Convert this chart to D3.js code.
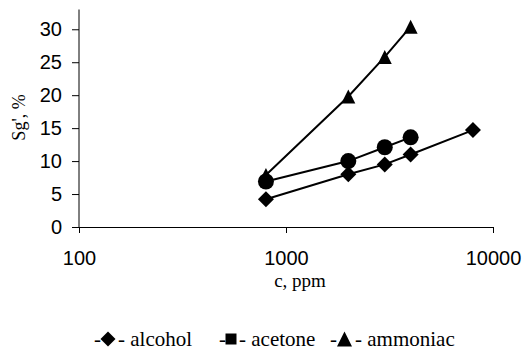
<!DOCTYPE html>
<html>
<head>
<meta charset="utf-8">
<script src="https://cdn.jsdelivr.net/npm/d3@7"></script>
<style>
  html, body { margin: 0; padding: 0; background: #fff; }
  svg { display: block; }
</style>
</head>
<body>
<svg id="chart" width="525" height="351"></svg>
<script>
// Concentration (ppm) and response Sg' (%) for each vapour
const alcoholC = [800, 2000, 3000, 4000, 8000];
const alcoholV = [4.2, 8.0, 9.5, 11.0, 14.7];
const acetoneC = [800, 2000, 3000, 4000];
const acetoneV = [6.9, 10.0, 12.1, 13.6];
const ammoniacC = [800, 2000, 3000, 4000];
const ammoniacV = [7.9, 19.8, 25.8, 30.4];

const seriesNames = ["alcohol", "acetone", "ammoniac"];
const xTicks = [100, 1000, 10000];
const yTicks = [0, 5, 10, 15, 20, 25, 30];

const SANS = "'Liberation Sans', Arial, sans-serif";
const SERIF = "'Liberation Serif', 'Times New Roman', serif";

// Marker shapes: size is the square of the bounding-box width
const diamondSym = { draw(ctx, size) { const w = Math.sqrt(size) / 2;
  ctx.moveTo(0, -w); ctx.lineTo(w, 0); ctx.lineTo(0, w); ctx.lineTo(-w, 0); ctx.closePath(); } };
const squareSym = { draw(ctx, size) { const w = Math.sqrt(size) / 2;
  ctx.rect(-w, -w, 2 * w, 2 * w); } };
const triangleSym = { draw(ctx, size) { const w = Math.sqrt(size) / 2;
  ctx.moveTo(0, -w); ctx.lineTo(w, w); ctx.lineTo(-w, w); ctx.closePath(); } };
const circleSym = { draw(ctx, size) { const r = Math.sqrt(size) / 2;
  ctx.moveTo(r, 0); ctx.arc(0, 0, r, 0, 2 * Math.PI); } };

const svg = d3.select("#chart");
const x = d3.scaleLog().domain([100, 10000]).range([79, 493]);
const y = d3.scaleLinear().domain([0, 33]).range([227, 9.5]);

// Axes
const xAxis = svg.append("g").attr("transform", `translate(0,${y(0)})`)
  .call(d3.axisBottom(x).tickValues(xTicks).tickFormat(d3.format("d")).tickSizeOuter(0).tickSize(6).tickPadding(18));
const yAxis = svg.append("g").attr("transform", `translate(${x(100)},0)`)
  .call(d3.axisLeft(y).tickValues(yTicks).tickSizeOuter(0).tickSize(7).tickPadding(10));
[xAxis, yAxis].forEach(g => {
  g.select(".domain").attr("stroke", "#000").attr("stroke-width", 1);
  g.selectAll(".tick line").attr("stroke", "#000");
  g.selectAll(".tick text").attr("fill", "#000")
    .style("font-family", SANS).style("font-size", "20px");
});
// y axis line runs to the top of the plot
yAxis.select(".domain").attr("d", `M0,${y(0)}V${y(33)}`);

// Axis titles
svg.append("text").attr("x", 300).attr("y", 287).attr("text-anchor", "middle")
  .style("font-family", SERIF).style("font-size", "19px")
  .text("c, ppm");
svg.append("text").attr("transform", "translate(25,117.5) rotate(-90)").attr("text-anchor", "middle")
  .style("font-family", SERIF).style("font-size", "18px")
  .text("Sg', %");

const line = d3.line().x(d => x(d[0])).y(d => y(d[1]));
const data = [
  { pts: d3.zip(alcoholC, alcoholV), sym: diamondSym, size: 256 },
  { pts: d3.zip(acetoneC, acetoneV), sym: circleSym, size: 256 },
  { pts: d3.zip(ammoniacC, ammoniacV), sym: triangleSym, size: 196 }
];

data.forEach(s => {
  const g = svg.append("g");
  g.append("path").attr("d", line(s.pts)).attr("fill", "none")
    .attr("stroke", "#000").attr("stroke-width", 2);
  g.selectAll("path.m").data(s.pts).join("path").attr("class", "m")
    .attr("transform", d => `translate(${x(d[0])},${y(d[1])})`)
    .attr("d", d3.symbol().type(s.sym).size(s.size)).attr("fill", "#000");
});

// Legend
const legendSyms = [
  { sym: diamondSym, size: 225, x: 94, w: 16 },
  { sym: squareSym, size: 121, x: 219, w: 12 },
  { sym: triangleSym, size: 225, x: 330, w: 17 }
];
const ly = 346;
seriesNames.forEach((name, i) => {
  const L = legendSyms[i];
  const g = svg.append("g").attr("transform", `translate(${L.x},${ly})`);
  const font = t => t.style("font-family", SERIF).style("font-size", "21px").attr("fill", "#000");
  g.append("text").attr("x", 0).attr("y", 0).text("-").call(font);
  g.append("path").attr("transform", `translate(${6 + L.w / 2},-7)`)
    .attr("d", d3.symbol().type(L.sym).size(L.size)).attr("fill", "#000");
  g.append("text").attr("x", 8 + L.w).attr("y", 0).text("- " + name).call(font);
});
</script>
</body>
</html>
